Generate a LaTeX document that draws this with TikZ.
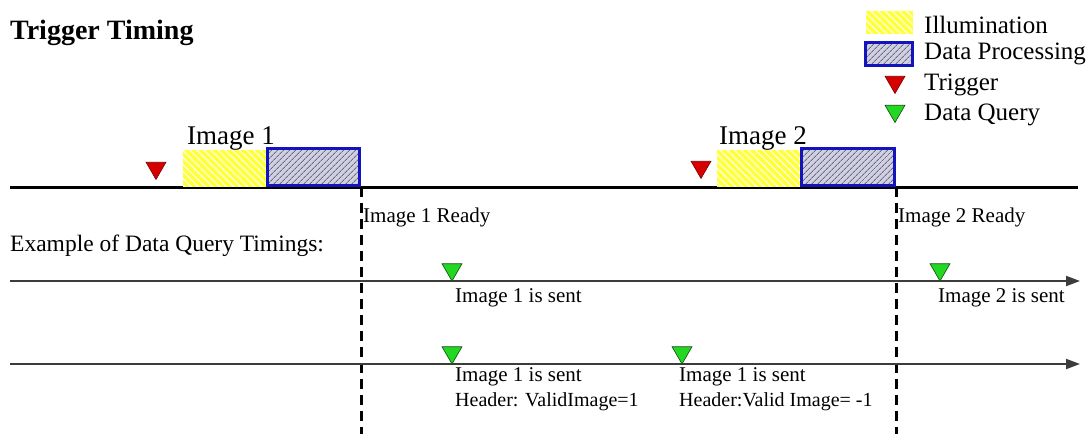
\documentclass[tikz,border=0pt]{standalone}
\usepackage{fontspec}
\setmainfont{Liberation Serif}
\usetikzlibrary{shapes.geometric,arrows.meta,patterns.meta}

\definecolor{illumyellow}{RGB}{255,255,60}
\definecolor{procfill}{RGB}{208,208,222}
\definecolor{procline}{RGB}{105,105,140}
\definecolor{procblue}{RGB}{20,20,190}
\definecolor{trigred}{RGB}{215,0,0}
\definecolor{querygreen}{RGB}{35,215,35}
\definecolor{lanegray}{RGB}{60,60,60}

\newcommand\fsTitle{\fontsize{28}{32}\selectfont}
\newcommand\fsImage{\fontsize{27}{32}\selectfont}
\newcommand\fsLegend{\fontsize{25}{30}\selectfont}
\newcommand\fsNote{\fontsize{21}{25}\selectfont}
\newcommand\fsHeader{\fontsize{20}{24}\selectfont}

\tikzstyle{txt}=[anchor=west, inner sep=0]
\tikzstyle{illum}=[rectangle, minimum height=37, inner sep=0, preaction={fill=illumyellow},
    pattern={Lines[angle=-45,distance=5pt,line width=1.3pt]}, pattern color=white!80!illumyellow]
\tikzstyle{proc}=[rectangle, minimum height=37, inner sep=0, draw=procblue, line width=3pt,
    preaction={fill=procfill}, pattern={Lines[angle=45,distance=4pt,line width=0.9pt]}, pattern color=procline]
\tikzstyle{trigger}=[regular polygon, regular polygon sides=3, shape border rotate=180,
    minimum size=23, inner sep=0, fill=trigred, draw=trigred!55!black, line width=0.6pt]
\tikzstyle{query}=[regular polygon, regular polygon sides=3, shape border rotate=180,
    minimum size=23, inner sep=0, fill=querygreen, draw=querygreen!35!black, line width=0.6pt]
\tikzstyle{timeline}=[line width=3pt]
\tikzstyle{readyline}=[line width=3pt, dash pattern=on 10pt off 6pt]
\tikzstyle{queryline}=[line width=2pt, draw=lanegray, -{Triangle[length=14pt,width=10pt]}]

\begin{document}
\begin{tikzpicture}[x=1pt, y=-1pt]
    \useasboundingbox (0,0) rectangle (1090,434);

    \node[txt, font=\fsTitle\bfseries] (title) at (10,33) {Trigger Timing};

    % legend
    \node[illum, minimum width=47, minimum height=23, anchor=north west] (lgillum) at (865,10) {};
    \node[proc, minimum width=47, minimum height=23, anchor=north west] (lgproc) at (865,42) {};
    \node[trigger] (lgtrig) at (895,82) {};
    \node[query] (lgquery) at (895,111) {};
    \node[txt, font=\fsLegend] (lgillumtxt) at (924,25) {Illumination};
    \node[txt, font=\fsLegend] (lgproctxt) at (924,54) {Data Processing};
    \node[txt, font=\fsLegend] (lgtrigtxt) at (924,85) {Trigger};
    \node[txt, font=\fsLegend] (lgquerytxt) at (924,115) {Data Query};

    % trigger line
    \coordinate (tlstart) at (10,187);
    \coordinate (tlend) at (1078,187);
    \coordinate (bottom) at (0,434);
    \draw[timeline] (tlstart) -- (tlend);

    \node[illum, minimum width=83, anchor=south west] (illum1) at (183,187) {};
    \node[proc, minimum width=92, anchor=south west] (proc1) at (illum1.south east) {};
    \node[trigger] (trig1) at (156,168) {};
    \node[txt, font=\fsImage] (img1) at (187,138) {Image 1};

    \node[illum, minimum width=83, anchor=south west] (illum2) at (717,187) {};
    \node[proc, minimum width=93, anchor=south west] (proc2) at (illum2.south east) {};
    \node[trigger] (trig2) at (701,167) {};
    \node[txt, font=\fsImage] (img2) at (719,138) {Image 2};

    \draw[readyline] (proc1.south east) -- (proc1.south east |- bottom);
    \draw[readyline] (proc2.south east) -- (proc2.south east |- bottom);
    \node[txt, font=\fsNote] (ready1) at (363,217) {Image 1 Ready};
    \node[txt, font=\fsNote] (ready2) at (898,217) {Image 2 Ready};

    % query examples
    \node[txt, font=\fontsize{23.5}{28}\selectfont] (example) at (10,246) {Example of Data Query Timings:};

    \coordinate (lane1start) at (10,281);
    \coordinate (lane1end) at (1080,281);
    \coordinate (lane2start) at (10,364);
    \coordinate (lane2end) at (1080,364);
    \draw[queryline] (lane1start) -- (lane1end);
    \draw[queryline] (lane2start) -- (lane2end);

    \node[query] (dq1) at (452,269.5) {};
    \node[query] (dq2) at (940,269.5) {};
    \node[query] (dq3) at (452,352.5) {};
    \node[query] (dq4) at (682,352.5) {};

    \node[txt, font=\fsNote] (sent1) at (455,298) {Image 1 is sent};
    \node[txt, font=\fsNote] (sent2) at (938,298) {Image 2 is sent};
    \node[txt, font=\fsNote] (sent3) at (455,377) {Image 1 is sent};
    \node[txt, font=\fsHeader] (hdr3) at (455,402) {Header: ValidImage=1};
    \node[txt, font=\fsNote] (sent4) at (679,377) {Image 1 is sent};
    \node[txt, font=\fsHeader] (hdr4) at (679,402) {Header:Valid Image= -1};
\end{tikzpicture}
\end{document}
